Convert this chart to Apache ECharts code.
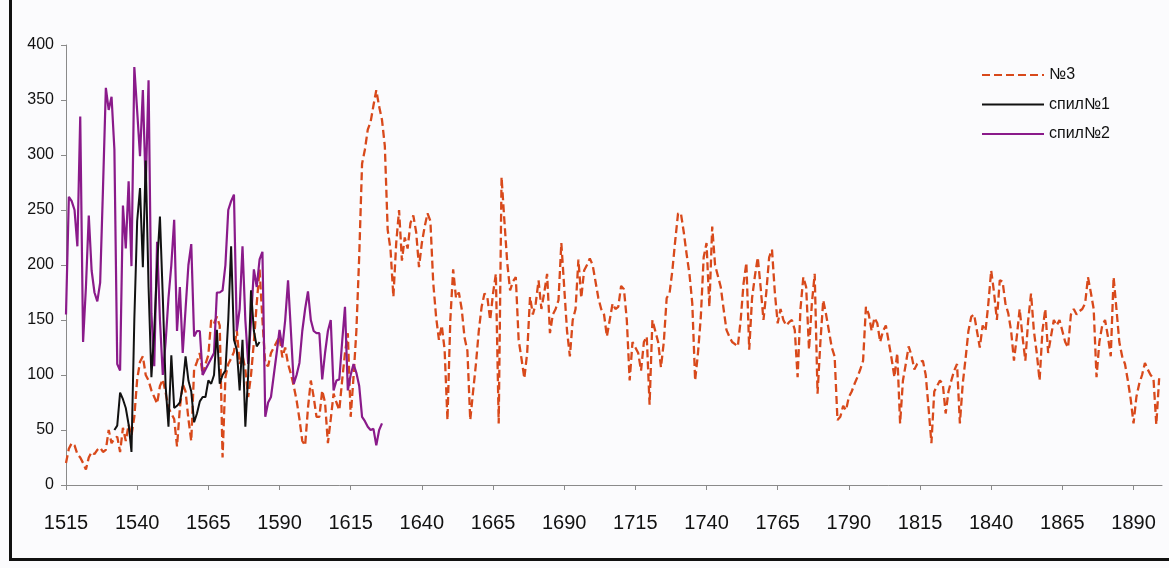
<!DOCTYPE html>
<html><head><meta charset="utf-8">
<script src="https://cdn.jsdelivr.net/npm/echarts@6/dist/echarts.min.js"></script>
<style>
html,body{margin:0;padding:0;background:#fbfbfd;}
#wrap{position:relative;width:1169px;height:568px;overflow:hidden;}
#c{position:absolute;left:0;top:0;width:1169px;height:568px;}
#frame{position:absolute;left:9px;top:-6px;width:1170px;height:564px;border-left:3px solid #111;border-bottom:3px solid #111;pointer-events:none;}
</style>
</head><body>
<div id="wrap"><div id="c"></div><div id="frame"></div></div>
<script>
// ---- data ----
const xTickLabels = [1515,1540,1565,1590,1615,1640,1665,1690,1715,1740,1765,1790,1815,1840,1865,1890];
const yTickLabels = [0,50,100,150,200,250,300,350,400];
const seriesNames = ['№3','спил№1','спил№2'];

// №3, yearly values starting 1515
const n3Start = 1515;
const n3 = [
20,33,38,36,28,25,20,14,25,30,
28,32,34,30,32,50,38,42,44,30,
52,40,55,45,62,96,112,117,100,95,
86,80,74,90,96,84,70,65,60,35,
70,92,85,60,40,105,112,120,100,110,
118,150,147,153,145,25,98,110,115,121,
141,110,118,105,80,100,130,165,196,150,
110,108,120,125,130,135,116,125,110,101,
90,77,60,40,36,70,95,80,62,
62,86,75,38,60,83,75,68,95,120,
138,62,98,140,208,292,305,323,330,345,
359,344,332,308,232,214,171,220,250,204,
225,215,238,245,230,198,220,235,247,240,
184,153,132,145,123,59,150,196,170,175,
160,134,122,59,85,110,140,162,174,
171,150,174,192,56,280,240,202,177,185,
189,132,115,97,120,171,155,165,186,160,
175,192,138,155,160,168,220,180,140,117,
150,160,205,170,195,200,206,200,185,170,
160,155,135,150,165,160,162,181,178,150,
95,130,125,120,104,130,135,73,150,
140,130,107,130,170,174,195,222,247,247,
230,210,192,165,95,120,153,207,220,162,
235,200,190,180,160,141,135,130,128,126,
150,183,202,123,170,190,207,180,150,175,
207,214,175,147,160,150,145,148,150,141,
98,160,189,180,123,165,192,83,130,168,
155,140,125,117,59,62,72,68,80,
85,92,98,105,113,162,155,140,152,147,
130,140,145,130,115,98,120,56,95,110,
126,118,105,110,112,113,100,70,38,85,
90,95,92,65,85,95,104,110,56,92,
115,140,153,155,140,125,145,140,165,195,
175,150,186,185,165,156,140,113,135,
160,135,113,150,174,140,120,95,140,160,
120,135,150,145,150,140,130,125,155,160,
155,158,160,165,189,175,160,98,130,145,
150,135,117,189,160,130,117,110,95,78,
56,80,92,100,111,105,100,97,55,97
];

// спил№1, yearly values starting 1532
const s1Start = 1532;
const s1 = [
50,54,84,78,70,55,30,150,240,270,
198,295,180,98,140,200,244,171,90,53,
118,70,72,75,90,117,95,85,57,65,
76,80,80,95,92,100,141,92,100,
104,150,217,132,123,86,132,53,100,177,
140,126,130
];

// спил№2, yearly values starting 1515
const s2Start = 1515;
const s2 = [
155,262,258,250,217,335,130,180,245,195,
175,167,184,270,361,341,353,305,110,104,
254,215,276,199,380,340,299,359,270,368,
156,108,221,150,100,130,170,200,241,140,
180,120,160,200,219,135,140,140,100,105,
110,115,120,175,175,177,200,250,258,264,
140,160,217,150,110,150,196,180,205,212,
62,75,80,100,120,141,125,150,186,140,
92,100,111,140,160,176,150,140,138,138,
96,120,140,150,86,95,96,130,162,86,
100,110,102,90,62,58,53,50,51,36,
50,56
];

// ---- chart ----
function pairs(start, vals){ return vals.map((v,i)=>[start+i, v]); }
const font = 'Liberation Sans, Arial, sans-serif';
const chart = echarts.init(document.getElementById('c'), null, {renderer:'canvas'});
chart.setOption({
  backgroundColor: '#fbfbfd',
  animation: false,
  textStyle: {fontFamily: font, color:'#111'},
  grid: {left: 66, right: 7, top: 45, bottom: 83},
  legend: {
    orient: 'vertical', left: 976, top: 62, itemWidth: 62, itemHeight: 14, itemGap: 13.5,
    itemStyle: {opacity: 0, borderWidth: 0},
    textStyle: {fontFamily: font, fontSize: 16, color: '#111'},
    data: seriesNames
  },
  xAxis: {
    type: 'value', min: 1515, max: 1900, interval: 25,
    splitLine: {show:false},
    axisLine: {lineStyle:{color:'#8a8a8a', width:1}},
    axisTick: {show:true, length:5, lineStyle:{color:'#8a8a8a'}, customValues: xTickLabels},
    axisLabel: {fontFamily: font, fontSize: 20, color:'#111', margin: 28,
      customValues: xTickLabels, formatter: v => String(v)}
  },
  yAxis: {
    type: 'value', min: 0, max: 400, interval: 50,
    splitLine: {show:false},
    axisLine: {show:true, lineStyle:{color:'#8a8a8a', width:1}},
    axisTick: {show:true, length:5, lineStyle:{color:'#8a8a8a'}},
    axisLabel: {fontFamily: font, fontSize: 16, color:'#111', margin: 12}
  },
  series: [
    {name: seriesNames[0], type:'line', data: pairs(n3Start, n3), symbol:'none',
     lineStyle:{color:'#d8491b', width:2.3, type:[8,4]}, itemStyle:{color:'#d8491b'}, z:2},
    {name: seriesNames[1], type:'line', data: pairs(s1Start, s1), symbol:'none',
     lineStyle:{color:'#111111', width:2}, itemStyle:{color:'#111111'}, z:4},
    {name: seriesNames[2], type:'line', data: pairs(s2Start, s2), symbol:'none',
     lineStyle:{color:'#8a1a8a', width:2.2}, itemStyle:{color:'#8a1a8a'}, z:3}
  ]
});
</script>
</body></html>
